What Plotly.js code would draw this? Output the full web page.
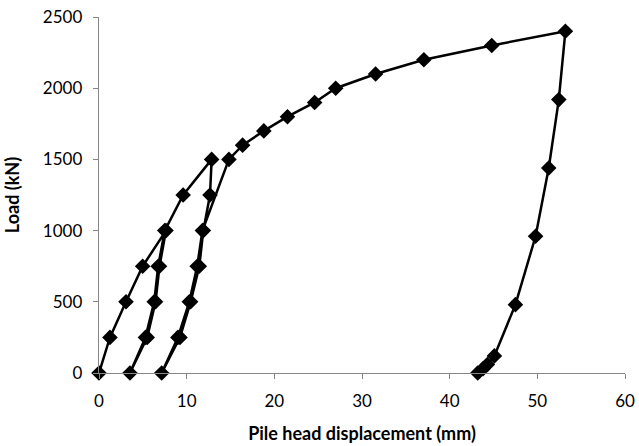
<!DOCTYPE html>
<html>
<head>
<meta charset="utf-8">
<script src="https://cdn.plot.ly/plotly-3.0.1.min.js"></script>
<style>html,body{margin:0;padding:0;background:#fff;}#chart{width:639px;height:446px;}</style>
</head>
<body>
<div id="chart"></div>
<script>
// Pile head displacement (mm)
const displacement = [0, 1.25, 3.08, 4.98, 7.64, 6.9, 6.45, 5.5, 3.53, 5.3, 6.3, 6.75, 7.5,
  9.6, 12.85, 12.66, 11.9, 11.44, 10.45, 9.24, 7.15, 9.0, 10.3, 11.2, 11.8,
  14.82, 16.38, 18.8, 21.5, 24.6, 27.0, 31.55, 37.06, 44.8, 53.2,
  52.45, 51.3, 49.8, 47.5, 45.1, 44.3, 43.8, 43.2];
// Load (kN)
const load = [0, 250, 500, 750, 1000, 750, 500, 250, 0, 250, 500, 750, 1000,
  1250, 1500, 1250, 1000, 750, 500, 250, 0, 250, 500, 750, 1000,
  1500, 1600, 1700, 1800, 1900, 2000, 2100, 2200, 2300, 2400,
  1920, 1440, 960, 480, 120, 60, 30, 0];
const xTicks = [0, 10, 20, 30, 40, 50, 60];
const yTicks = [0, 500, 1000, 1500, 2000, 2500];

const font = 'Lato, "Open Sans", sans-serif';
Plotly.newPlot('chart', [{
  x: displacement, y: load, type: 'scatter', mode: 'lines+markers',
  line: {color: '#000', width: 2.5},
  marker: {symbol: 'diamond', size: 12, color: '#000'},
  cliponaxis: false, hoverinfo: 'none'
}], {
  width: 639, height: 446,
  margin: {l: 99, r: 14, t: 17, b: 73},
  paper_bgcolor: '#fff', plot_bgcolor: '#fff',
  showlegend: false,
  font: {family: font, size: 17, color: '#000'},
  xaxis: {
    range: [0, 60], tickvals: xTicks, ticktext: xTicks.map(String),
    showgrid: false, zeroline: false, showline: true, linecolor: '#868686', linewidth: 1.3,
    ticks: 'outside', ticklen: 5, tickcolor: '#868686', ticklabelstandoff: 7,
    tickfont: {family: font, size: 17, color: '#000'},
    title: {text: '<b>Pile head displacement (mm)</b>', font: {family: font, size: 18, color: '#000'}, standoff: 17}
  },
  yaxis: {
    range: [0, 2500], tickvals: yTicks, ticktext: yTicks.map(String),
    showgrid: false, zeroline: false, showline: true, linecolor: '#868686', linewidth: 1.3,
    ticks: 'outside', ticklen: 5, tickcolor: '#868686', ticklabelstandoff: 7,
    tickfont: {family: font, size: 17, color: '#000'},
    title: {text: '<b>Load (kN)</b>', font: {family: font, size: 18, color: '#000'}, standoff: 18}
  }
}, {staticPlot: true});
</script>
</body>
</html>
